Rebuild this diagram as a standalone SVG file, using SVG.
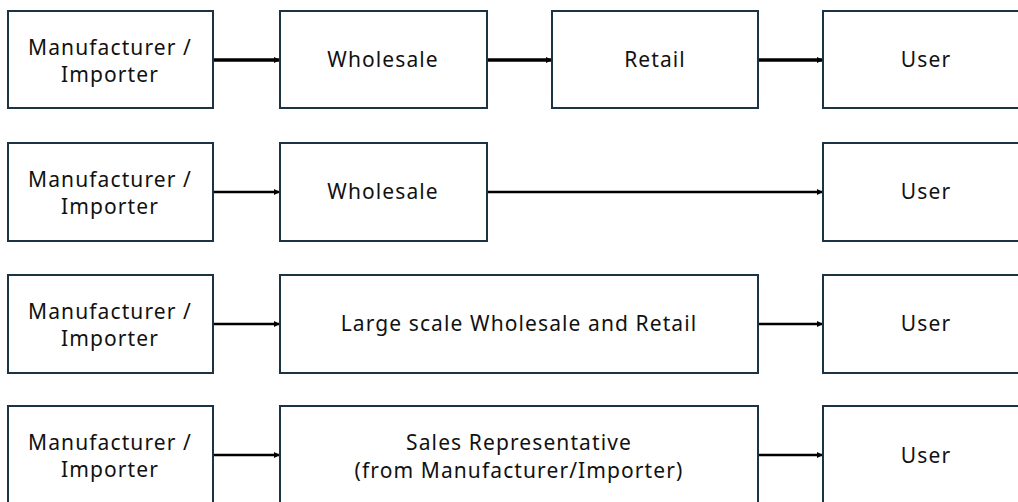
<svg xmlns="http://www.w3.org/2000/svg" width="1018" height="502" viewBox="0 0 1018 502">
<style>
.box{fill:#fff;stroke:#1c3344;stroke-width:2}
.t{font-family:"Noto Sans","Open Sans",sans-serif;font-size:21px;letter-spacing:1.1px;fill:#111;text-anchor:middle}
.c{stroke:#000;fill:none}
.thick{stroke-width:3.5}
.thin{stroke-width:2.5}
</style>
<defs>
<marker id="ah" viewBox="0 0 10 10" refX="10" refY="5" markerWidth="8" markerHeight="6" markerUnits="userSpaceOnUse" orient="auto">
<path d="M0,0 L10,5 L0,10 z" fill="#000"/>
</marker>
</defs>
<rect width="1018" height="502" fill="#fff"/>
<g id="connectors">
<line class="c thick" x1="214" y1="60" x2="280" y2="60" marker-end="url(#ah)"/>
<line class="c thick" x1="488" y1="60" x2="552" y2="60" marker-end="url(#ah)"/>
<line class="c thick" x1="759" y1="60" x2="823" y2="60" marker-end="url(#ah)"/>
<line class="c thin" x1="214" y1="192" x2="280" y2="192" marker-end="url(#ah)"/>
<line class="c thin" x1="488" y1="192" x2="823" y2="192" marker-end="url(#ah)"/>
<line class="c thin" x1="214" y1="324" x2="280" y2="324" marker-end="url(#ah)"/>
<line class="c thin" x1="759" y1="324" x2="823" y2="324" marker-end="url(#ah)"/>
<line class="c thin" x1="214" y1="455" x2="280" y2="455" marker-end="url(#ah)"/>
<line class="c thin" x1="759" y1="455" x2="823" y2="455" marker-end="url(#ah)"/>
</g>
<g id="r1-mfr"><rect class="box" x="8" y="11" width="205" height="97"/><text class="t" x="110" y="55">Manufacturer /</text><text class="t" x="110" y="82">Importer</text></g>
<g id="r1-wholesale"><rect class="box" x="280" y="11" width="207" height="97"/><text class="t" x="383" y="67">Wholesale</text></g>
<g id="r1-retail"><rect class="box" x="552" y="11" width="206" height="97"/><text class="t" x="655" y="67">Retail</text></g>
<g id="r1-user"><rect class="box" x="823" y="11" width="200" height="97"/><text class="t" x="926" y="67">User</text></g>
<g id="r2-mfr"><rect class="box" x="8" y="143" width="205" height="98"/><text class="t" x="110" y="187">Manufacturer /</text><text class="t" x="110" y="214">Importer</text></g>
<g id="r2-wholesale"><rect class="box" x="280" y="143" width="207" height="98"/><text class="t" x="383" y="199">Wholesale</text></g>
<g id="r2-user"><rect class="box" x="823" y="143" width="200" height="98"/><text class="t" x="926" y="199">User</text></g>
<g id="r3-mfr"><rect class="box" x="8" y="275" width="205" height="98"/><text class="t" x="110" y="319">Manufacturer /</text><text class="t" x="110" y="346">Importer</text></g>
<g id="r3-large"><rect class="box" x="280" y="275" width="478" height="98"/><text class="t" x="519" y="331">Large scale Wholesale and Retail</text></g>
<g id="r3-user"><rect class="box" x="823" y="275" width="200" height="98"/><text class="t" x="926" y="331">User</text></g>
<g id="r4-mfr"><rect class="box" x="8" y="406" width="205" height="99"/><text class="t" x="110" y="450">Manufacturer /</text><text class="t" x="110" y="477">Importer</text></g>
<g id="r4-sales"><rect class="box" x="280" y="406" width="478" height="99"/><text class="t" x="519" y="450">Sales Representative</text><text class="t" x="519" y="478">(from Manufacturer/Importer)</text></g>
<g id="r4-user"><rect class="box" x="823" y="406" width="200" height="99"/><text class="t" x="926" y="463">User</text></g>
</svg>
